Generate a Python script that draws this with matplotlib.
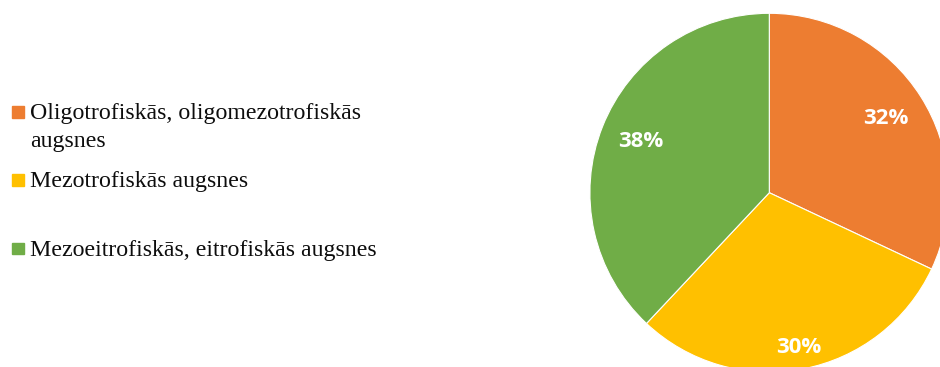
import numpy as np
import matplotlib
matplotlib.use("Agg")
import matplotlib.pyplot as plt
from matplotlib.patches import Rectangle

# soil groups and their shares (%)
labels = ["Oligotrofiskās, oligomezotrofiskās\naugsnes",
          "Mezotrofiskās augsnes",
          "Mezoeitrofiskās, eitrofiskās augsnes"]
shares = [32, 30, 38]
colors = ["#ED7D31", "#FFC000", "#70AD47"]

W, H = 940, 367
fig = plt.figure(figsize=(W / 100, H / 100), dpi=100)

# pie axes: centre at (769, 193) px, radius ~179 px
cx, cy, r = 769.3, 192.7, 179.4
ax = fig.add_axes([(cx - r) / W, (H - cy - r) / H, 2 * r / W, 2 * r / H])
wedges, _ = ax.pie(shares, colors=colors, startangle=90, counterclock=False,
                   radius=1.0, wedgeprops=dict(edgecolor="white", linewidth=0.8))
for w in wedges:
    w.set_clip_on(False)
ax.set_xlim(-1, 1)
ax.set_ylim(-1, 1)
ax.set_aspect("equal")
ax.axis("off")

# percentage labels, placed along each wedge's mid angle
dist = [0.77, 0.88, 0.77]
start = 90.0
total = sum(shares)
for v, d in zip(shares, dist):
    sweep = 360.0 * v / total
    mid = np.deg2rad(start - sweep / 2)
    ax.text(d * np.cos(mid), d * np.sin(mid), f"{v}%", color="white",
            fontsize=16, fontweight="bold", family="Open Sans",
            ha="center", va="center")
    start -= sweep

# legend on the left
entry_y = [119.3, 187.3, 255.7]
line_gap = 27.4
for lab, col, y in zip(labels, colors, entry_y):
    fig.patches.append(Rectangle((12 / W, 1 - (y - 1.5) / H), 11.5 / W, 11.5 / H,
                                 transform=fig.transFigure, color=col))
    for k, line in enumerate(lab.split("\n")):
        fig.text(30 / W, 1 - (y + k * line_gap) / H, line, fontsize=17.2,
                 family="Liberation Serif", color="#0d0d0d",
                 ha="left", va="baseline")

fig.savefig("out.png", dpi=100)
